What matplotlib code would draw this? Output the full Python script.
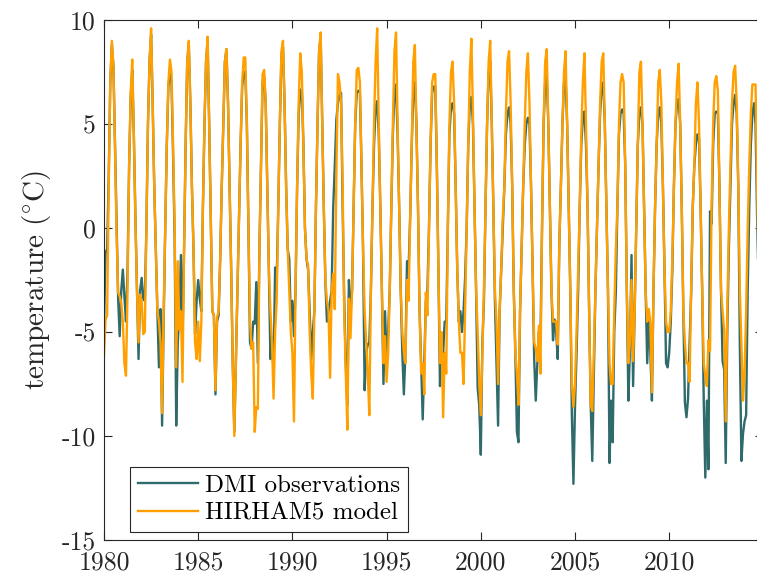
import matplotlib
matplotlib.use("Agg")
import matplotlib.pyplot as plt
import numpy as np

# monthly mean temperature, one row per year (Jan..Dec), 1980-2014
first_year = 1980

dmi_obs = [
    [-4.7, -1.2, -1.0, 2.5, 7.0, 8.8, 7.8, 4.0, 0.0, -3.4, -5.2, -3.0],      # 1980
    [-2.0, -3.3, -4.5, -2.0, 3.0, 6.3, 7.6, 4.5, 0.5, -3.0, -6.3, -3.0],     # 1981
    [-2.4, -3.4, -3.5, 0.0, 5.0, 8.0, 9.3, 6.0, 2.0, -1.0, -4.0, -6.7],      # 1982
    [-3.9, -9.5, -4.5, 0.0, 4.0, 6.8, 7.4, 7.0, 3.5, -0.5, -9.5, -5.5],      # 1983
    [-4.0, -1.3, -5.5, -1.0, 4.0, 8.0, 8.8, 6.0, 2.0, -1.0, -5.1, -3.5],     # 1984
    [-2.5, -3.4, -4.0, 1.0, 5.0, 8.0, 9.0, 5.0, 0.6, -4.0, -4.2, -8.0],      # 1985
    [-4.5, -4.2, -1.5, 2.0, 5.0, 8.0, 8.6, 6.0, 2.0, -2.0, -6.5, -9.8],      # 1986
    [-6.5, -3.0, 0.5, 4.0, 6.8, 7.5, 7.5, 5.0, 0.0, -5.5, -5.8, -4.5],       # 1987
    [-4.6, -2.6, -6.5, -1.0, 3.0, 7.0, 7.3, 6.0, 2.0, -2.0, -6.3, -5.3],     # 1988
    [-7.0, -1.9, -2.5, 1.0, 5.0, 8.3, 8.7, 6.0, 2.0, -1.0, -1.5, -4.5],      # 1989
    [-3.5, -5.2, -3.0, 2.0, 5.5, 6.5, 6.7, 4.0, 0.0, -1.5, -2.0, -4.0],      # 1990
    [-6.3, -5.0, -4.0, 1.0, 5.0, 8.5, 9.2, 5.0, 1.0, -2.6, -4.5, -4.0],      # 1991
    [-3.5, -3.0, 1.0, 3.0, 5.2, 6.0, 6.4, 6.5, 1.0, -3.5, -6.5, -8.5],       # 1992
    [-2.5, -4.0, -3.0, 1.0, 5.0, 6.5, 6.6, 6.5, 3.0, -1.0, -7.8, -6.0],      # 1993
    [-5.6, -5.5, -3.0, 1.0, 4.0, 5.8, 6.1, 4.5, 1.0, -3.0, -7.5, -4.0],      # 1994
    [-6.3, -5.0, -3.0, 1.0, 4.5, 6.5, 6.9, 4.5, 1.0, -3.0, -6.0, -8.0],      # 1995
    [-6.0, -1.6, -2.0, 0.5, 4.0, 6.5, 7.0, 5.0, 1.0, -4.0, -6.5, -9.2],      # 1996
    [-6.5, -3.5, -3.0, 0.0, 4.0, 6.5, 6.8, 6.8, 3.0, -2.0, -7.6, -5.5],      # 1997
    [-6.0, -4.5, -4.5, 0.0, 4.5, 5.8, 6.0, 5.5, 2.0, -2.0, -4.5, -4.0],      # 1998
    [-5.0, -4.0, -2.4, 0.0, 4.0, 6.0, 6.3, 5.0, 1.0, -3.0, -7.7, -8.5],      # 1999
    [-10.9, -5.5, -3.5, 1.0, 5.0, 7.5, 8.0, 5.0, 1.0, -3.5, -6.5, -9.5],     # 2000
    [-4.0, -2.0, 0.0, 2.0, 4.5, 5.5, 5.8, 5.0, 2.0, -3.0, -6.0, -9.8],       # 2001
    [-10.3, -4.0, -1.0, 2.0, 4.0, 5.0, 5.3, 5.0, 2.0, -2.0, -6.3, -8.3],     # 2002
    [-6.5, -5.0, -5.5, 0.0, 5.0, 7.0, 7.3, 5.0, 1.0, -3.0, -5.4, -4.4],      # 2003
    [-5.0, -6.3, -0.8, 2.0, 5.0, 7.0, 7.2, 5.0, 1.0, -3.0, -9.0, -12.3],     # 2004
    [-8.6, -6.0, -3.0, 1.0, 4.0, 5.3, 5.6, 4.0, 1.0, -4.0, -8.5, -11.2],     # 2005
    [-7.0, -3.0, 0.0, 3.0, 5.5, 6.8, 7.0, 5.0, 1.0, -3.0, -11.3, -8.3],     # 2006
    [-10.3, -5.0, -3.1, 1.0, 4.5, 5.5, 5.7, 5.5, 3.0, -3.0, -8.3, -5.8],     # 2007
    [-1.3, -7.6, -4.0, 0.0, 4.0, 5.5, 5.8, 5.0, 1.0, -3.0, -6.5, -4.2],      # 2008
    [-6.0, -8.3, -3.0, 1.0, 4.0, 5.5, 5.8, 5.0, 2.0, -2.0, -6.5, -6.7],      # 2009
    [-6.0, -4.5, -2.0, 2.0, 5.0, 6.0, 6.2, 5.0, 1.0, -4.0, -8.4, -9.1],      # 2010
    [-8.2, -5.5, -3.1, 1.0, 3.0, 4.0, 4.5, 4.3, 1.0, -3.0, -8.3, -12.0],     # 2011
    [-8.3, -11.6, 0.8, 0.2, 4.0, 5.5, 5.6, 5.5, 2.0, -3.0, -6.4, -6.8],      # 2012
    [-11.3, -5.0, -1.0, 2.0, 5.0, 6.0, 6.4, 5.5, 2.0, -5.7, -11.2, -9.9],    # 2013
    [-9.3, -9.0, -3.0, 1.0, 4.0, 5.5, 6.0, 5.0, 0.5, -3.0, -6.0, -8.0],      # 2014
]

hirham5 = [
    [-6.1, -4.4, -4.2, 2.0, 7.0, 9.0, 7.8, 3.8, -0.2, -3.1, -3.3, -3.6],     # 1980
    [-4.5, -6.5, -7.1, -3.0, 3.0, 6.5, 8.1, 4.5, 0.5, -3.0, -5.5, -3.2],     # 1981
    [-3.5, -5.1, -5.0, 0.0, 5.0, 8.0, 9.6, 6.0, 2.0, -1.0, -4.0, -4.5],      # 1982
    [-5.5, -8.9, -4.0, 0.0, 4.0, 7.0, 8.1, 7.5, 4.0, 0.0, -6.7, -1.6],       # 1983
    [-4.9, -4.0, -7.4, -1.0, 4.0, 8.0, 9.0, 6.0, 2.0, -1.0, -5.5, -6.3],     # 1984
    [-4.5, -6.4, -4.5, 1.0, 5.0, 8.0, 9.2, 5.0, 0.6, -4.0, -4.2, -7.8],      # 1985
    [-4.3, -4.0, -1.5, 2.0, 5.0, 8.0, 8.6, 6.0, 2.0, -2.0, -6.5, -10.0],     # 1986
    [-6.5, -3.0, 0.5, 4.0, 7.0, 8.2, 8.2, 5.0, 0.0, -4.5, -5.8, -5.5],       # 1987
    [-9.8, -8.6, -8.7, -1.0, 3.0, 7.4, 7.6, 6.0, 2.0, -2.0, -4.0, -5.5],     # 1988
    [-8.2, -5.0, -3.5, 1.0, 5.0, 8.5, 9.0, 6.0, 2.0, -1.0, -3.0, -5.0],      # 1989
    [-6.0, -9.3, -3.0, 2.0, 6.0, 8.4, 7.5, 4.0, 0.0, -1.5, -1.8, -5.0],      # 1990
    [-7.0, -8.2, -4.0, 1.0, 5.0, 8.5, 9.4, 5.0, 1.0, -2.5, -3.5, -4.0],      # 1991
    [-7.2, -3.0, -2.2, -3.9, 2.5, 7.4, 7.0, 6.0, 2.0, -4.0, -7.0, -9.7],     # 1992
    [-3.4, -5.3, -3.0, 1.0, 5.0, 7.6, 7.7, 7.0, 3.0, -1.0, -4.0, -5.5],      # 1993
    [-7.0, -9.0, -3.0, 1.0, 5.0, 8.0, 9.6, 5.0, 1.0, -3.0, -6.5, -5.2],      # 1994
    [-7.4, -6.0, -3.0, 1.0, 5.0, 8.5, 9.4, 5.0, 1.0, -3.0, -5.0, -6.0],      # 1995
    [-6.5, -2.5, -3.5, 0.5, 4.0, 8.0, 8.8, 5.0, 1.0, -4.0, -7.0, -6.5],      # 1996
    [-8.0, -3.1, -4.2, 0.0, 4.0, 7.0, 7.4, 7.4, 3.0, -2.0, -6.5, -5.0],      # 1997
    [-9.1, -6.0, -7.0, 0.0, 5.0, 7.5, 8.0, 6.0, 2.0, -2.0, -4.5, -6.0],      # 1998
    [-6.0, -7.5, -4.0, 0.0, 4.0, 7.5, 9.1, 5.5, 1.0, -3.0, -5.0, -7.4],      # 1999
    [-9.0, -6.0, -3.0, 1.0, 5.0, 8.0, 9.0, 5.0, 1.0, -3.0, -4.5, -7.5],      # 2000
    [-4.0, -2.0, 0.5, 2.0, 5.5, 8.0, 8.5, 6.0, 2.0, -3.0, -6.0, -7.0],       # 2001
    [-8.5, -4.0, -1.0, 2.0, 5.0, 7.5, 8.4, 6.0, 2.0, -2.0, -5.5, -5.8],      # 2002
    [-6.4, -4.7, -7.0, 0.0, 5.0, 8.0, 8.6, 5.0, 1.0, -3.0, -4.5, -4.5],      # 2003
    [-4.5, -5.6, -0.8, 2.0, 5.0, 7.5, 8.5, 5.0, 1.0, -3.0, -7.5, -8.6],      # 2004
    [-7.5, -5.0, -2.0, 1.0, 4.5, 7.0, 8.4, 5.0, 1.0, -4.0, -8.5, -8.8],      # 2005
    [-6.0, -3.0, 0.0, 3.0, 6.0, 8.0, 8.4, 5.0, 1.0, -3.0, -6.5, -7.5],       # 2006
    [-7.5, -4.0, -1.0, 1.0, 5.0, 7.0, 7.4, 7.0, 3.0, -3.0, -6.5, -5.5],      # 2007
    [-2.5, -6.4, -4.0, 0.0, 4.0, 7.5, 8.0, 5.0, 1.0, -3.0, -4.5, -3.9],      # 2008
    [-4.5, -7.9, -3.0, 1.0, 4.0, 7.0, 7.6, 6.0, 2.0, -2.0, -4.5, -5.0],      # 2009
    [-5.0, -4.0, -1.5, 2.0, 5.0, 7.0, 7.9, 5.0, 1.0, -4.0, -5.5, -6.5],      # 2010
    [-6.5, -7.4, -2.8, 1.0, 3.0, 6.0, 7.0, 5.0, 1.0, -3.0, -6.5, -7.1],      # 2011
    [-7.6, -5.4, -5.9, 1.0, 5.0, 7.0, 7.3, 6.6, 2.0, -3.0, -4.0, -4.9],      # 2012
    [-9.3, -4.0, 0.0, 3.0, 6.0, 7.5, 7.8, 6.0, 2.0, -3.0, -5.7, -8.3],       # 2013
    [-7.0, -4.0, 0.0, 3.0, 5.5, 6.9, 6.9, 6.9, 2.0, -2.0, -5.0, -7.0],       # 2014
]

legend_labels = ["DMI observations", "HIRHAM5 model"]
x_ticks = [1980, 1985, 1990, 1995, 2000, 2005, 2010]
y_ticks = [-15, -10, -5, 0, 5, 10]

COL_OBS = "#2f6b6b"
COL_MOD = "#ffa000"
AX_COL = "#262626"

plt.rcParams["font.family"] = "cmr10"
plt.rcParams["mathtext.fontset"] = "cm"
plt.rcParams["axes.unicode_minus"] = False

obs = np.array(dmi_obs).ravel()
mod = np.array(hirham5).ravel()
t = first_year + np.arange(obs.size) / 12.0

fig = plt.figure(figsize=(7.57, 5.83), dpi=100)
ax = fig.add_axes([104 / 757, 43 / 583, (763.4 - 104) / 757, 520 / 583])

ax.plot(t, obs, color=COL_OBS, linewidth=1.7, label=legend_labels[0])
ax.plot(t, mod, color=COL_MOD, linewidth=1.7, label=legend_labels[1])

ax.set_xlim(1980, 2015)
ax.set_ylim(-15, 10)
ax.set_xticks(x_ticks)
ax.set_xticklabels([str(v) for v in x_ticks])
ax.set_yticks(y_ticks)
ax.set_yticklabels([str(v) for v in y_ticks])
ax.tick_params(direction="in", top=True, right=True, length=6, width=0.8,
               colors=AX_COL, labelsize=18.5)
ax.tick_params(axis="x", pad=8)
ax.tick_params(axis="y", pad=6)
for spine in ax.spines.values():
    spine.set_color(AX_COL)
    spine.set_linewidth(0.8)

ax.set_ylabel(r"$\mathrm{temperature\ (^{\circ}C)}$", fontsize=21,
              color=AX_COL, labelpad=6)

leg = ax.legend(loc="lower left", bbox_to_anchor=(26 / 659.4, 8 / 520),
                borderaxespad=0, fancybox=False, framealpha=1,
                edgecolor=AX_COL, handlelength=2.4, fontsize=18,
                borderpad=0.3, labelspacing=0.2, handletextpad=0.3)
leg.get_frame().set_linewidth(0.8)

fig.savefig("out.png", dpi=100)
